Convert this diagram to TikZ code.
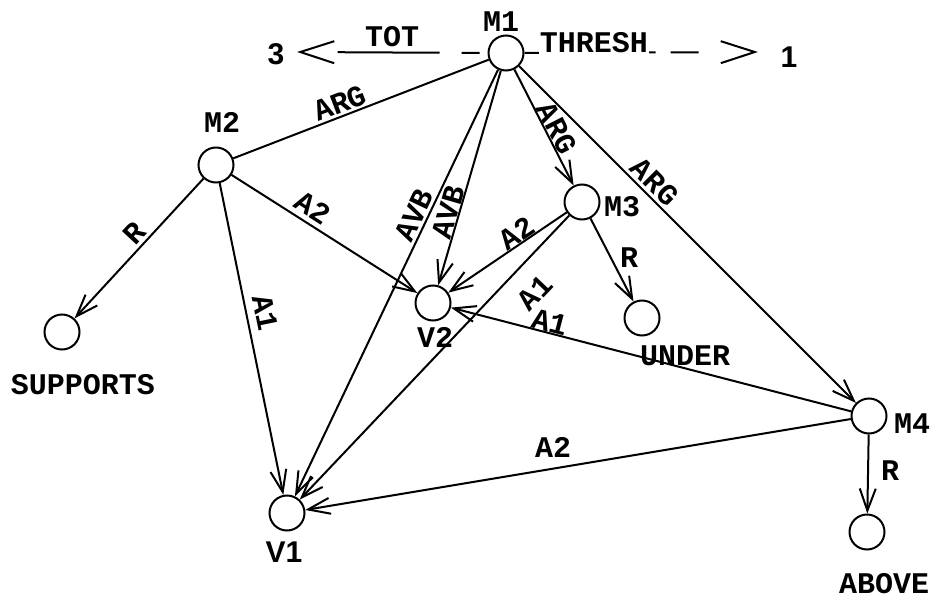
\documentclass[tikz,border=0pt]{standalone}
\usepackage{fontspec}
\setmainfont{Liberation Mono}
\newfontfamily\sansbold{Liberation Sans}
\usetikzlibrary{arrows.meta}
\begin{document}
\begin{tikzpicture}[x=1pt,y=-1pt,
  vtx/.style={circle,draw,line width=2pt,minimum size=35pt,inner sep=0pt},
  lbl/.style={font=\bfseries\fontsize{30pt}{32pt}\selectfont,inner sep=1pt},
  sbl/.style={font=\sansbold\bfseries\fontsize{30pt}{32pt}\selectfont,inner sep=1pt},
  edge/.style={line width=2pt,-{Straight Barb[length=22pt,width=16pt,line width=2pt]}},
  plain/.style={line width=2pt},
  dedge/.style={line width=2pt,-{Straight Barb[length=34pt,width=22pt,line width=2pt]}}]
\useasboundingbox (0,0) rectangle (934,599);
% vertices
\node[vtx] (M1) at (506,53) {};
\node[vtx] (M2) at (216,165) {};
\node[vtx] (M3) at (582,202) {};
\node[vtx] (M4) at (869,416) {};
\node[vtx] (V1) at (287,513) {};
\node[vtx] (V2) at (433,303) {};
\node[vtx] (SUP) at (62,332) {};
\node[vtx] (UND) at (642,318) {};
\node[vtx] (ABV) at (867,532) {};
% vertex names
\node[lbl] (tM1) at (501,22) {M1};
\node[lbl] (tM2) at (222,122) {M2};
\node[lbl] (tM3) at (622,207) {M3};
\node[lbl] (tM4) at (912,424) {M4};
\node[sbl] (tV1) at (284,552) {V1};
\node[lbl] (tV2) at (435,337) {V2};
\node[lbl] (tSUP) at (83,385) {SUPPORTS};
\node[lbl] (tUND) at (685,356) {UNDER};
\node[lbl] (tABV) at (884,584) {ABOVE};
\node[sbl] (three) at (276,54) {3};
\node[sbl] (one) at (789,57) {1};
\coordinate (t3) at (297,52);
\coordinate (t1) at (758,52);
% dashed arrows
\draw[dedge,dash pattern=on 0pt off 8pt on 18pt off 22pt on 102pt off 80pt] (M1.west) -- (t3);
\draw[dedge,dash pattern=on 131pt off 15pt on 28pt off 100pt] (M1.east) -- (t1);
\node[lbl] (tTOT) at (392,37) {TOT};
\node[lbl,fill=white] (tTHR) at (594,43) {THRESH};
% edges
\draw[plain] (M1) -- (M2);
\draw[edge] (M2) -- (SUP);
\draw[edge] (M2) -- (V1);
\draw[edge] (M2) -- (V2);
\draw[edge] (M1) -- (V1);
\draw[edge] (M1) -- (V2);
\draw[edge] (M1) -- (M3);
\draw[edge] (M1) -- (M4);
\draw[edge] (M3) -- (V2);
\draw[edge] (M3) -- (V1);
\draw[edge] (M3) -- (UND);
\draw[edge] (M4) -- (V2);
\draw[edge] (M4) -- (V1);
\draw[edge] (M4) -- (ABV);
% edge labels
\node[lbl,rotate=21] (eARG1) at (340,103) {ARG};
\node[lbl,rotate=47] (eR1) at (134,233) {R};
\node[lbl,rotate=-32.5] (eA2a) at (313,208) {A2};
\node[lbl,rotate=-78.5] (eA1a) at (265,313) {A1};
\node[lbl,rotate=64.5] (eAVB1) at (414,215) {AVB};
\node[lbl,rotate=73.7] (eAVB2) at (448,212) {AVB};
\node[lbl,rotate=-63] (eARG2) at (557,128) {ARG};
\node[lbl,rotate=-45] (eARG3) at (655,182) {ARG};
\node[lbl,rotate=34] (eA2b) at (517,233) {A2};
\node[lbl,rotate=46.5] (eA1b) at (535,293) {A1};
\node[lbl,rotate=-14.5] (eA1c) at (550,322) {A1};
\node[lbl] (eR2) at (629,258) {R};
\node[lbl] (eR3) at (890,471) {R};
\node[lbl] (eA2c) at (553,447) {A2};
\end{tikzpicture}
\end{document}
